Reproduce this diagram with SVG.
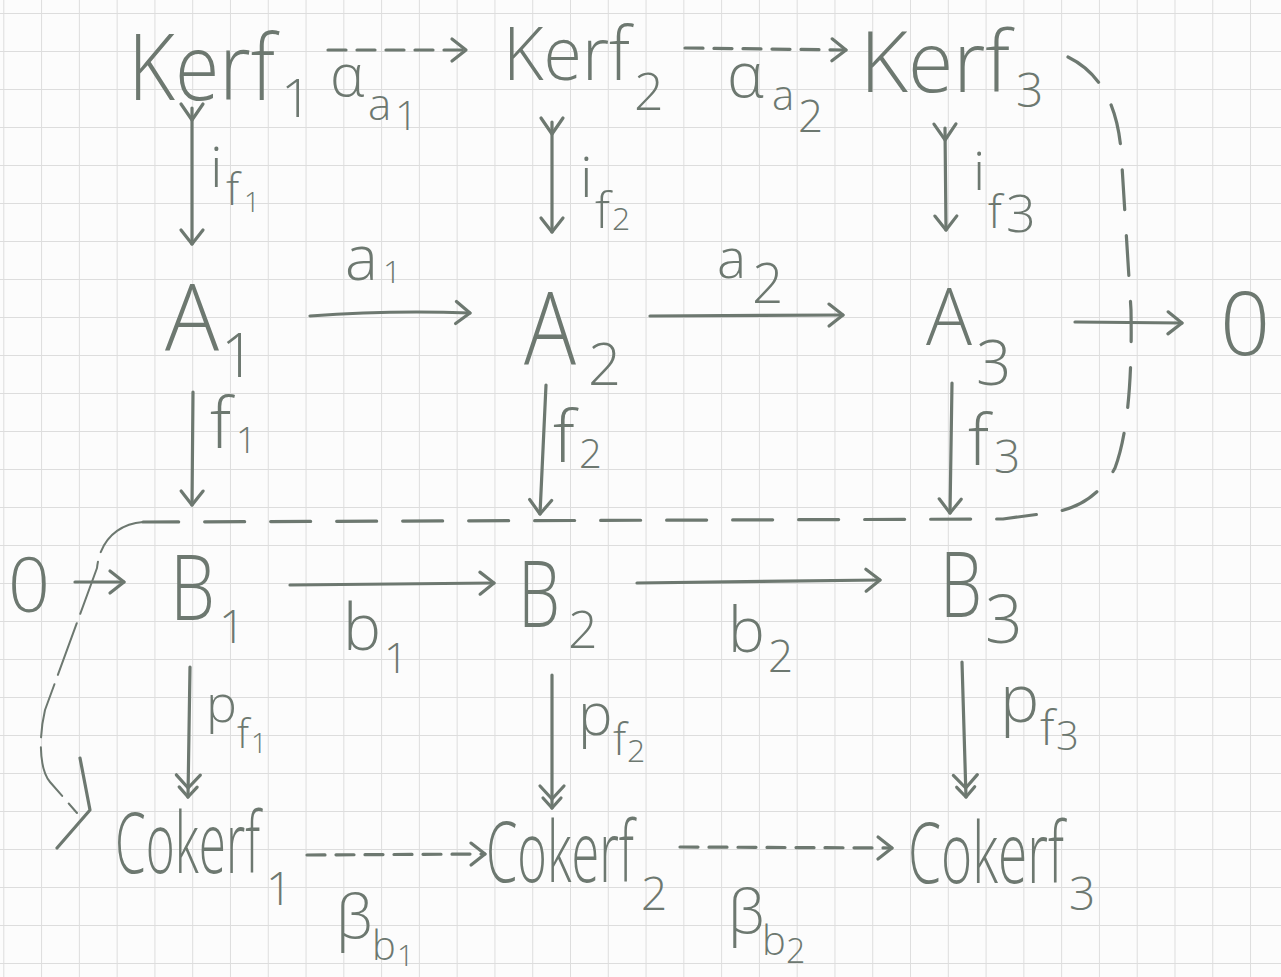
<svg xmlns="http://www.w3.org/2000/svg" width="1281" height="977" viewBox="0 0 1281 977">
<defs>
<style>
.ink{stroke:#6d7870;stroke-width:3.2;fill:none;stroke-linecap:round;stroke-linejoin:round}
.dsh{stroke-dasharray:18 11}
.snake{stroke-dasharray:40 26}
.thin{stroke-width:2;stroke-dasharray:55 10}
.t{font-family:"Open Sans","Liberation Sans",sans-serif;font-weight:300;fill:#6d7870}
.mk{fill:none;stroke:#6d7870;stroke-width:3.2;stroke-linecap:round;stroke-linejoin:round}
</style>
<pattern id="grid" x="3.3" y="13" width="37.78" height="38" patternUnits="userSpaceOnUse">
<path d="M0.5,0 V38 M0,0.5 H37.78" stroke="#dddddd" stroke-width="1" fill="none"/>
</pattern>
<marker id="head" markerUnits="userSpaceOnUse" viewBox="-25 -15 30 30" refX="0" refY="0" markerWidth="30" markerHeight="30" orient="auto">
<path class="mk" d="M-14,-11 L0,0 L-14,11"/>
</marker>
<marker id="epi" markerUnits="userSpaceOnUse" viewBox="-30 -15 35 30" refX="0" refY="0" markerWidth="35" markerHeight="30" orient="auto">
<path class="mk" d="M-22,-12 L-9,0 L-22,12 M-10,-9 L0,0 L-10,9"/>
</marker>
<marker id="tail" markerUnits="userSpaceOnUse" viewBox="-10 -15 30 30" refX="0" refY="0" markerWidth="30" markerHeight="30" orient="auto">
<path class="mk" d="M-4,-11 L12,0 L-4,11"/>
</marker>
</defs>
<rect x="0" y="0" width="1281" height="977" fill="#fcfcfc"/>
<rect x="0" y="0" width="1281" height="977" fill="url(#grid)"/>

<g id="connectors">
<path class="ink dsh" d="M328,50 L466,50" marker-end="url(#head)"/>
<path class="ink dsh" d="M685,48 L846,50" marker-end="url(#head)"/>
<path class="ink" d="M192,108 L192,244" marker-start="url(#tail)" marker-end="url(#head)"/>
<path class="ink" d="M552,122 L552,232" marker-start="url(#tail)" marker-end="url(#head)"/>
<path class="ink" d="M945,128 L946,230" marker-start="url(#tail)" marker-end="url(#head)"/>
<path class="ink" d="M310,316 Q390,310 470,313" marker-end="url(#head)"/>
<path class="ink" d="M650,316 L843,315" marker-end="url(#head)"/>
<path class="ink" d="M1075,322 L1182,323" marker-end="url(#head)"/>
<path class="ink" d="M193,392 L192,505" marker-end="url(#head)"/>
<path class="ink" d="M546,385 L540,514" marker-end="url(#head)"/>
<path class="ink" d="M952,383 L950,513" marker-end="url(#head)"/>
<path class="ink" d="M75,582 L124,582" marker-end="url(#head)"/>
<path class="ink" d="M290,585 L494,583" marker-end="url(#head)"/>
<path class="ink" d="M637,583 L880,580" marker-end="url(#head)"/>
<path class="ink" d="M190,667 L188,797" marker-end="url(#epi)"/>
<path class="ink" d="M552,675 L552,808" marker-end="url(#epi)"/>
<path class="ink" d="M962,662 L966,797" marker-end="url(#epi)"/>
<path class="ink dsh" d="M307,855 L485,854" marker-end="url(#head)"/>
<path class="ink dsh" d="M680,847 L892,848" marker-end="url(#head)"/>
<path class="ink snake" d="M1068,57 Q1115,80 1121,150 L1131,310 Q1133,420 1115,468 Q1095,505 1055,512 L1003,519 L143,522"/>
<path class="ink thin" d="M143,522 C118,524 100,540 97,568 L45,710 C38,740 40,770 50,782 L77,813"/>
<path class="ink" d="M80,758 L90,810 L57,848"/>
<g id="edge-labels">
<text class="t" x="330" y="96" font-size="58">α</text>
<text class="t" x="368" y="120" font-size="44">a</text>
<text class="t" x="395" y="130" font-size="40">1</text>
<text class="t" x="727" y="97" font-size="62">α</text>
<text class="t" x="772" y="110" font-size="42">a</text>
<text class="t" x="798" y="132" font-size="44">2</text>
<text class="t" x="210" y="187" font-size="56">i</text>
<text class="t" x="226" y="205" font-size="44">f</text>
<text class="t" x="244" y="212" font-size="28">1</text>
<text class="t" x="580" y="197" font-size="56">i</text>
<text class="t" x="595" y="228" font-size="50">f</text>
<text class="t" x="612" y="230" font-size="32">2</text>
<text class="t" x="973" y="190" font-size="54">i</text>
<text class="t" x="988" y="228" font-size="46">f</text>
<text class="t" x="1006" y="232" font-size="52">3</text>
<text class="t" x="345" y="280" font-size="62">a</text>
<text class="t" x="383" y="283" font-size="32">1</text>
<text class="t" x="717" y="278" font-size="55">a</text>
<text class="t" x="752" y="303" font-size="55">2</text>
<text class="t" x="210" y="448" font-size="70">f</text>
<text class="t" x="236" y="453" font-size="36">1</text>
<text class="t" x="553" y="462" font-size="72">f</text>
<text class="t" x="579" y="468" font-size="40">2</text>
<text class="t" x="968" y="465" font-size="70">f</text>
<text class="t" x="994" y="473" font-size="46">3</text>
<text class="t" x="343" y="650" font-size="64">b</text>
<text class="t" x="384" y="673" font-size="42">1</text>
<text class="t" x="728" y="652" font-size="62">b</text>
<text class="t" x="768" y="672" font-size="44">2</text>
<text class="t" x="206" y="722" font-size="52">p</text>
<text class="t" x="237" y="748" font-size="40">f</text>
<text class="t" x="251" y="753" font-size="28">1</text>
<text class="t" x="578" y="735" font-size="58">p</text>
<text class="t" x="613" y="755" font-size="44">f</text>
<text class="t" x="627" y="762" font-size="32">2</text>
<text class="t" x="1000" y="722" font-size="66">p</text>
<text class="t" x="1040" y="745" font-size="48">f</text>
<text class="t" x="1056" y="750" font-size="40">3</text>
<text class="t" x="336" y="938" font-size="60">β</text>
<text class="t" x="372" y="960" font-size="40">b</text>
<text class="t" x="397" y="966" font-size="30">1</text>
<text class="t" x="728" y="933" font-size="60">β</text>
<text class="t" x="762" y="955" font-size="40">b</text>
<text class="t" x="786" y="963" font-size="34">2</text>
</g>
</g>

<g id="kerf1"><text class="t" x="128" y="100" font-size="92" textLength="147" lengthAdjust="spacingAndGlyphs">Kerf</text><text class="t" x="281" y="117" font-size="54">1</text></g>
<g id="kerf2"><text class="t" x="503" y="80" font-size="74" textLength="127" lengthAdjust="spacingAndGlyphs">Kerf</text><text class="t" x="634" y="110" font-size="52">2</text></g>
<g id="kerf3"><text class="t" x="860" y="92" font-size="85" textLength="150" lengthAdjust="spacingAndGlyphs">Kerf</text><text class="t" x="1016" y="107" font-size="48">3</text></g>
<g id="A1"><text class="t" x="165" y="350" font-size="92" textLength="54" lengthAdjust="spacingAndGlyphs">A</text><text class="t" x="221" y="377" font-size="60">1</text></g>
<g id="A2"><text class="t" x="524" y="365" font-size="102" textLength="52" lengthAdjust="spacingAndGlyphs">A</text><text class="t" x="588" y="385" font-size="58">2</text></g>
<g id="A3"><text class="t" x="926" y="345" font-size="80" textLength="46" lengthAdjust="spacingAndGlyphs">A</text><text class="t" x="976" y="385" font-size="62">3</text></g>
<g id="zeroA"><text class="t" x="1220" y="355" font-size="88">0</text></g>
<g id="zeroB"><text class="t" x="8" y="612" font-size="76" textLength="42" lengthAdjust="spacingAndGlyphs">0</text></g>
<g id="B1"><text class="t" x="170" y="620" font-size="90" textLength="45" lengthAdjust="spacingAndGlyphs">B</text><text class="t" x="219" y="643" font-size="46">1</text></g>
<g id="B2"><text class="t" x="518" y="627" font-size="92" textLength="42" lengthAdjust="spacingAndGlyphs">B</text><text class="t" x="568" y="648" font-size="52">2</text></g>
<g id="B3"><text class="t" x="940" y="617" font-size="90" textLength="42" lengthAdjust="spacingAndGlyphs">B</text><text class="t" x="985" y="643" font-size="66">3</text></g>
<g id="coker1"><text class="t" x="115" y="873" font-size="84" textLength="145" lengthAdjust="spacingAndGlyphs">Cokerf</text><text class="t" x="266" y="905" font-size="46">1</text></g>
<g id="coker2"><text class="t" x="486" y="882" font-size="84" textLength="148" lengthAdjust="spacingAndGlyphs">Cokerf</text><text class="t" x="641" y="910" font-size="46">2</text></g>
<g id="coker3"><text class="t" x="908" y="883" font-size="84" textLength="156" lengthAdjust="spacingAndGlyphs">Cokerf</text><text class="t" x="1069" y="910" font-size="46">3</text></g>
</svg>
